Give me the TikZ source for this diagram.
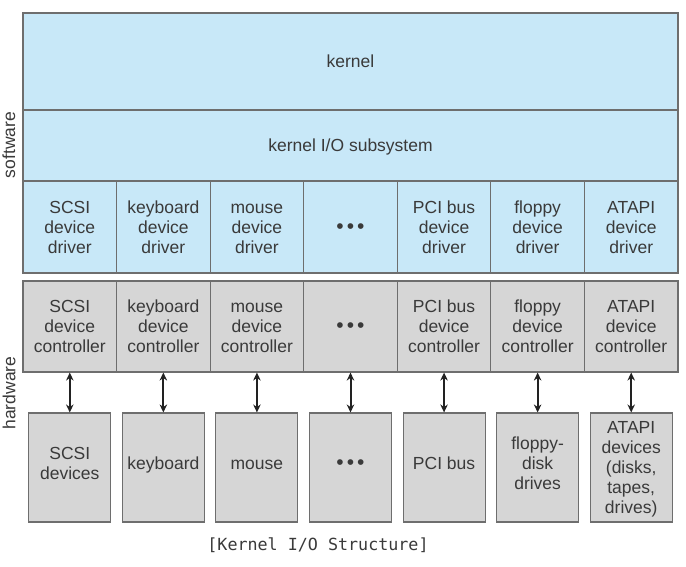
\documentclass[tikz,border=0pt]{standalone}
\usepackage{fontspec}
\setmainfont{Liberation Sans}
\newfontfamily\capfont{DejaVu Sans Mono}
\usetikzlibrary{arrows.meta}
\definecolor{swblue}{HTML}{C8E8F8}
\definecolor{hwgray}{HTML}{D6D6D6}
\definecolor{edgegray}{HTML}{6E6E6E}
\definecolor{txtgray}{HTML}{3A3A3A}
\definecolor{arrowdark}{HTML}{222222}
\newcommand{\topstrut}{\rule{0pt}{12.8pt}}
\tikzset{
  base/.style={draw=edgegray, line width=1.1pt, inner sep=0pt, align=center,
    text=txtgray, font=\fontsize{17.5}{20}\selectfont, text depth=0pt},
  swbox/.style={base, fill=swblue},
  hwbox/.style={base, fill=hwgray},
  colbox/.style={minimum width=93.571pt},
  drvbox/.style={swbox, colbox, minimum height=92pt},
  ctlbox/.style={hwbox, colbox, minimum height=91pt},
  devbox/.style={hwbox, minimum width=82pt, minimum height=109pt},
  link/.style={arrowdark, line width=2pt, {Stealth[length=8pt,width=7.5pt]}-{Stealth[length=8pt,width=7.5pt]}},
  sidelabel/.style={text=txtgray, font=\fontsize{17.5}{20}\selectfont, rotate=90}
}
\newcommand{\onedot}{{\fontsize{21}{20}\selectfont\textbullet}}
\newcommand{\dotsrow}{\onedot\hspace{3pt}\onedot\hspace{3pt}\onedot}
\begin{document}
\begin{tikzpicture}[x=1pt,y=-1pt]
\useasboundingbox (0,0) rectangle (686,566);
\fill[white] (0,0) rectangle (686,566);
% software
\node[swbox, minimum width=655pt, minimum height=97pt] (kernel) at (350.5,61.5) {\topstrut kernel};
\node[swbox, minimum width=655pt, minimum height=71pt] (kio) at (350.5,145.5) {\topstrut kernel I/O subsystem};
\foreach \i/\t in {0/{SCSI\\device\\driver},1/{keyboard\\device\\driver},2/{mouse\\device\\driver},3/{\dotsrow},4/{PCI bus\\device\\driver},5/{floppy\\device\\driver},6/{ATAPI\\device\\driver}}{
  \node[drvbox] (drv\i) at ({23+93.571*(\i+0.5)},227) {\topstrut\t};
}
% hardware
\foreach \i/\t in {0/{SCSI\\device\\controller},1/{keyboard\\device\\controller},2/{mouse\\device\\controller},3/{\dotsrow},4/{PCI bus\\device\\controller},5/{floppy\\device\\controller},6/{ATAPI\\device\\controller}}{
  \node[ctlbox] (ctl\i) at ({23+93.571*(\i+0.5)},326.5) {\topstrut\t};
}
\foreach \i/\d/\t in {0/8/{SCSI\\devices},1/8/{keyboard},2/8/{mouse},3/8/{\dotsrow},4/8/{PCI bus},5/8/{floppy-\\disk\\drives},6/0/{ATAPI\\devices\\(disks,\\tapes,\\drives)}}{
  \node[devbox, text depth=\d pt] (dev\i) at ({23+93.571*(\i+0.5)},467.5) {\topstrut\t};
  \draw[link] (ctl\i.south) -- (dev\i.north);
}
\node[sidelabel] (sw) at (9,145) {software};
\node[sidelabel] (hw) at (9,393) {hardware};
\node[text=txtgray, font=\capfont\fontsize{16.7}{18}\selectfont] (cap) at (318,545) {[Kernel I/O Structure]};
\end{tikzpicture}
\end{document}
